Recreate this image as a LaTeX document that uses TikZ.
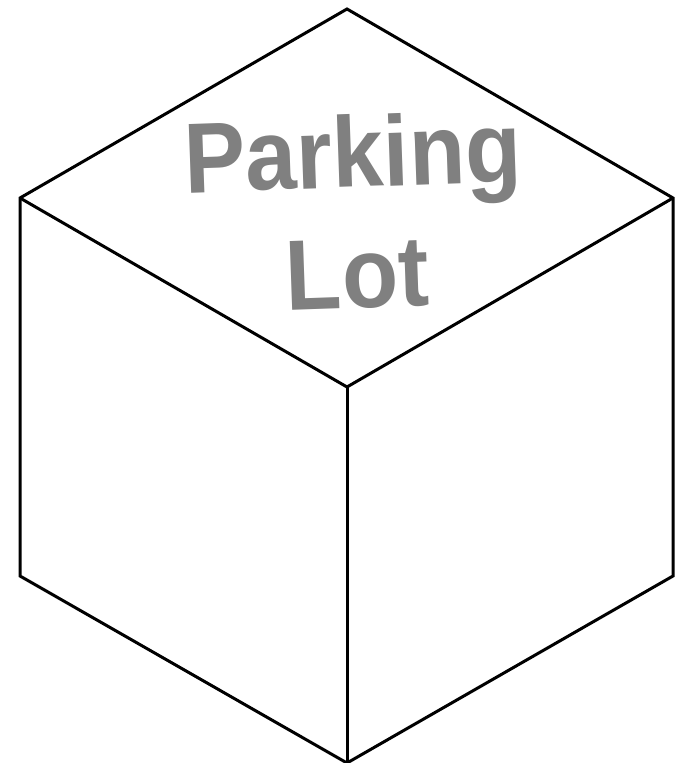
\documentclass[tikz,border=0pt]{standalone}
\usepackage{fontspec}
\setmainfont{Liberation Sans}
\definecolor{txtgray}{HTML}{808080}
\begin{document}
\begin{tikzpicture}[x=1pt,y=1pt,
  edge/.style={line width=3pt,line join=miter,black},
  lbl/.style={text=txtgray,font=\fontsize{100}{121}\selectfont\bfseries,align=center,inner sep=0pt}]
\useasboundingbox (0,0) rectangle (690,763);
\coordinate (T) at (347,754);
\coordinate (L) at (20,565);
\coordinate (R) at (673,565);
\coordinate (C) at (347,376);
\coordinate (LB) at (20,187);
\coordinate (RB) at (673,187);
\coordinate (B) at (347,0);
\draw[edge] (T) -- (R) -- (RB) -- (B) -- (LB) -- (L) -- cycle;
\draw[edge] (L) -- (C) -- (R);
\draw[edge] (C) -- (B);
\node[lbl,rotate=2,xscale=0.92] (t) at (355,551) {Parking\\Lot};
\end{tikzpicture}
\end{document}
